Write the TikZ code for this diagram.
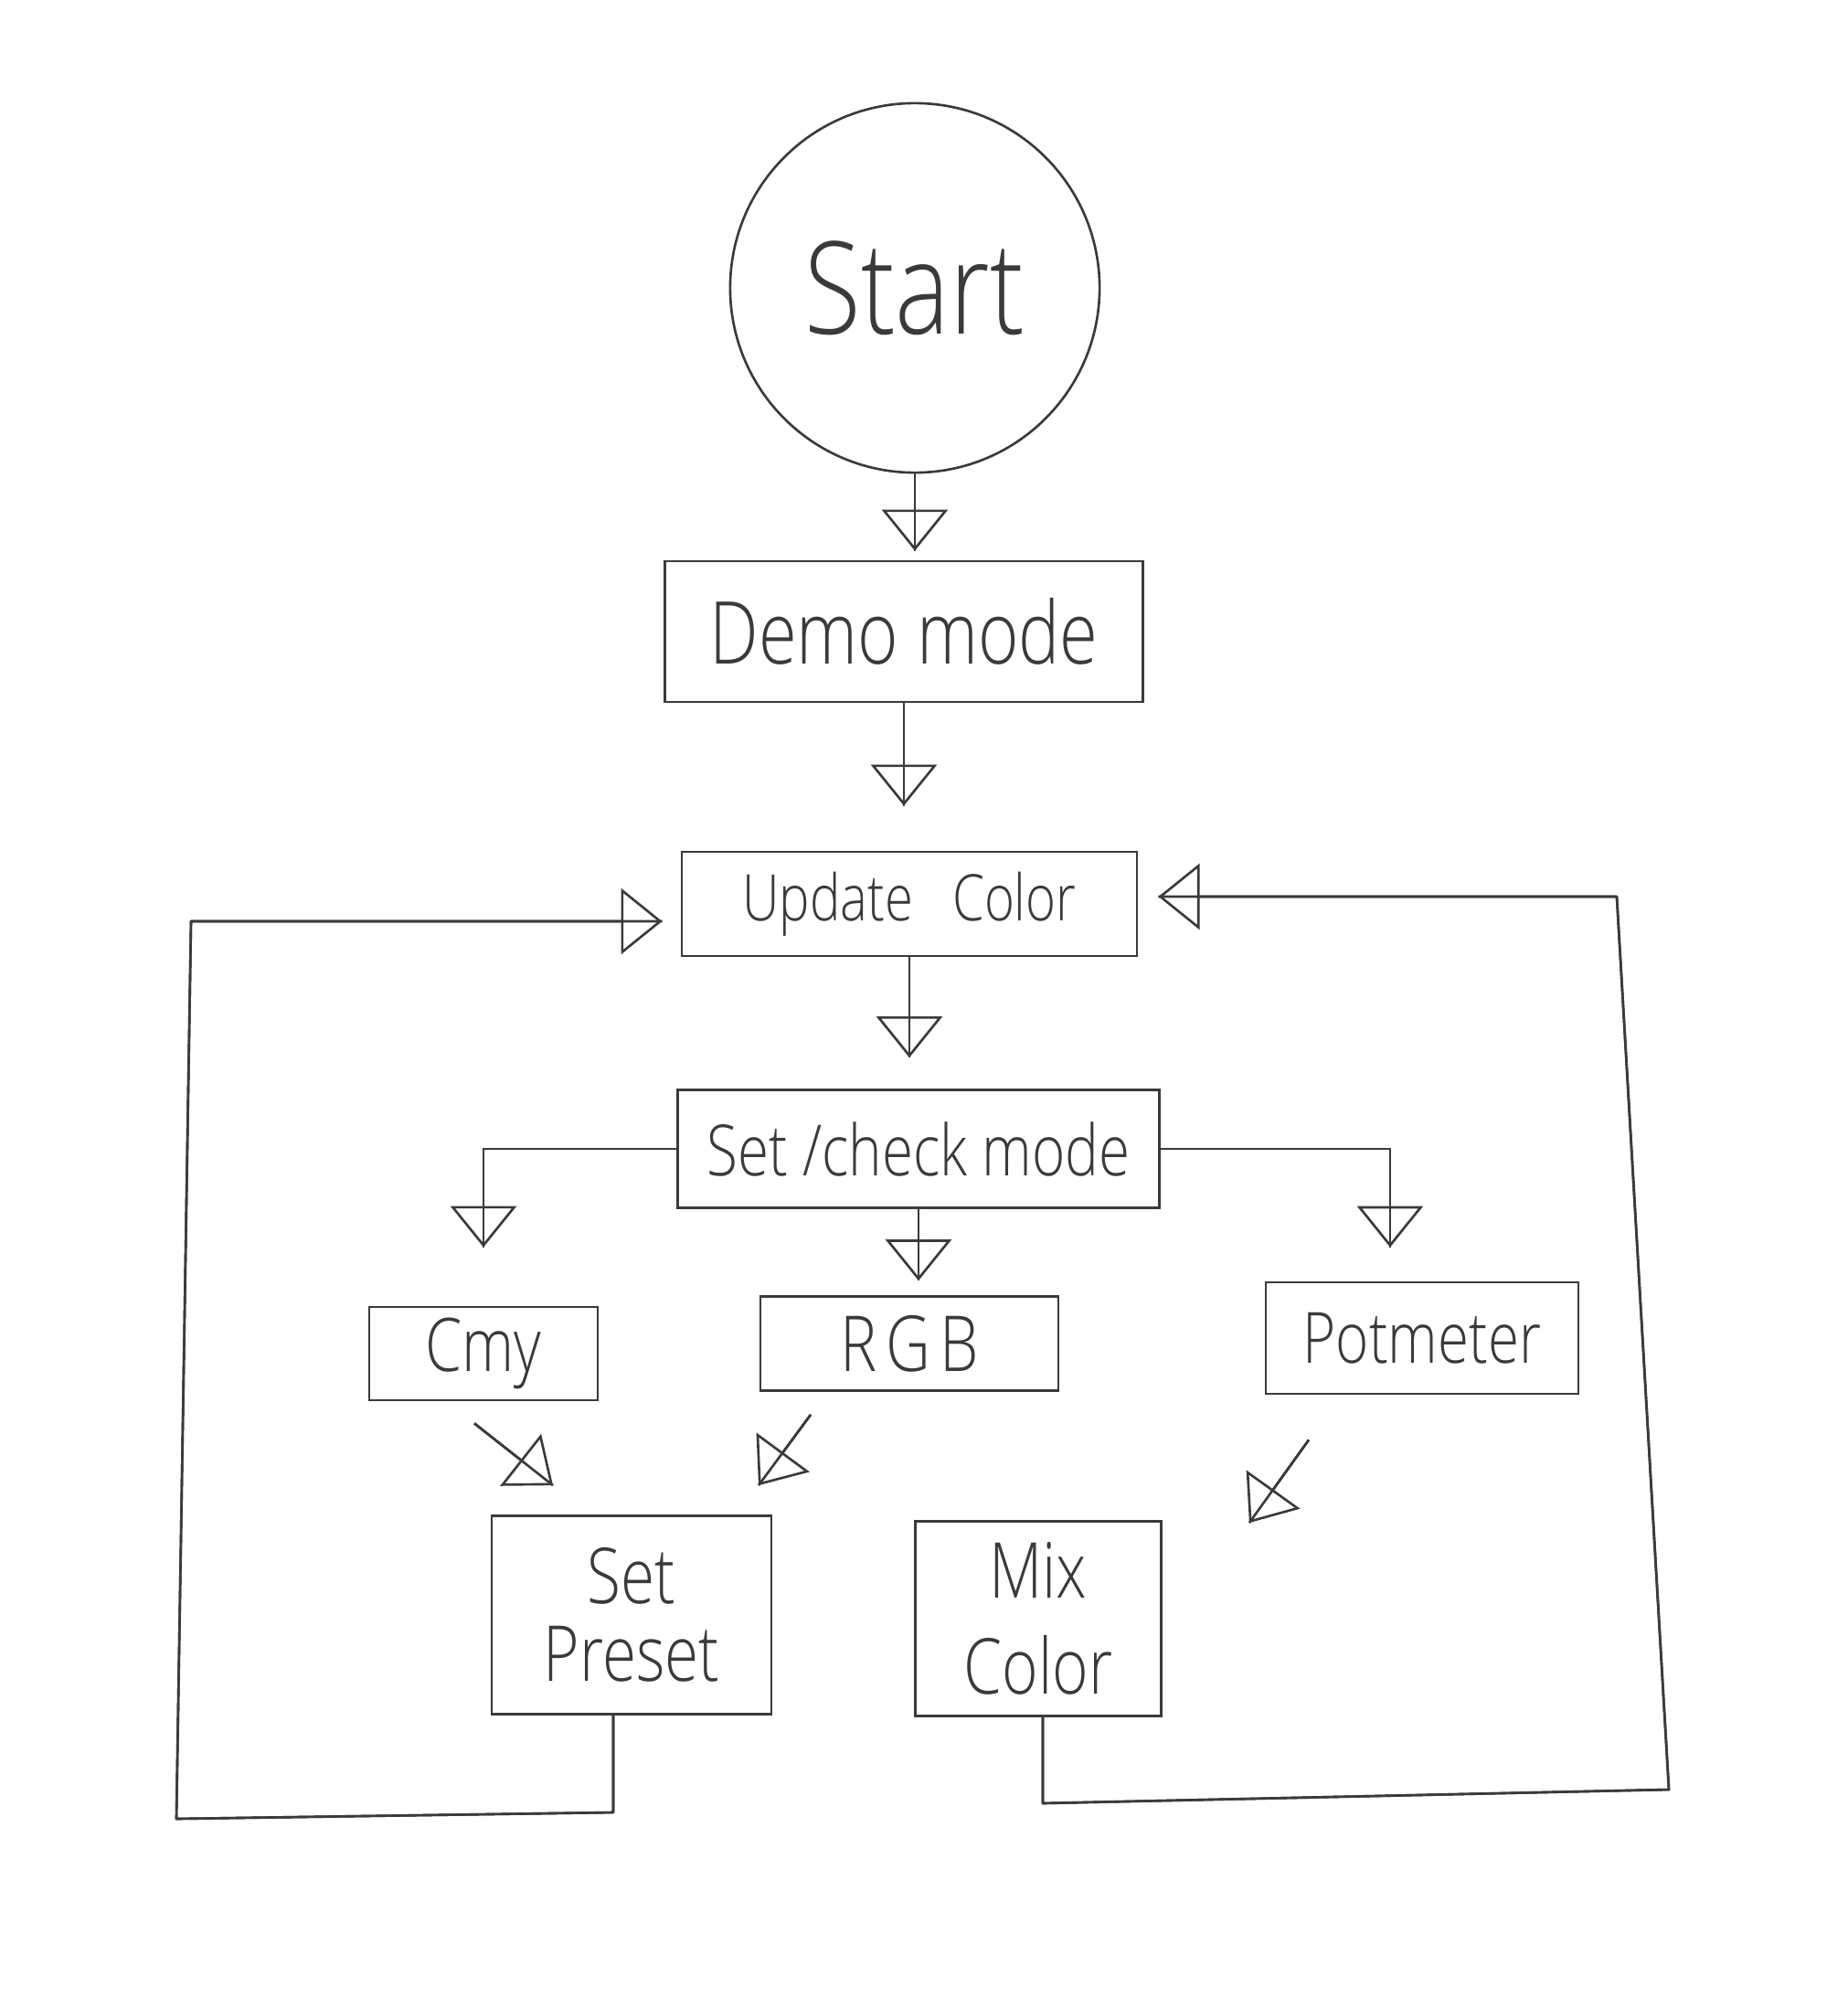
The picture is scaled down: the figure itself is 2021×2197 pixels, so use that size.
\documentclass[tikz,border=0pt]{standalone}
\usepackage{fontspec}
\setmainfont{Open Sans}
\newfontfamily\handfont{Open Sans}[UprightFont=* Light, FakeStretch=0.8]
\usetikzlibrary{arrows.meta,calc}
\definecolor{ink}{HTML}{3A3A3A}
\newcommand\fs[2]{\handfont\fontsize{#1}{#2}\selectfont}
\begin{document}
\begin{tikzpicture}[x=0.01cm,y=-0.01cm,
  line width=0.75pt, draw=ink, text=ink, font=\handfont,
  box/.style={draw, rectangle, inner sep=0pt, align=center},
  arr/.style={-{Triangle[open,length=0.45cm,width=0.72cm]}, postaction={draw,-}},
  link/.style={line join=round}]
\fill[white] (0,0) rectangle (2021,2197);
\useasboundingbox (0,0) rectangle (2021,2197);

% flow boxes
\node[draw, circle, minimum size=4.04cm, inner sep=0pt, font=\fs{40}{44}] (start) at (1001,315) {Start};
\node[box, minimum width=5.23cm, minimum height=1.54cm, font=\fs{27}{30}] (demo) at (989,691) {Demo mode};
\node[box, minimum width=4.98cm, minimum height=1.14cm, font=\fs{20}{24}] (update) at (995,989) {Update\hspace{0.4em} Color};
\node[box, minimum width=5.27cm, minimum height=1.29cm, font=\fs{22}{26}] (setmode) at (1005,1257) {Set /check mode};
\node[box, minimum width=2.50cm, minimum height=1.02cm, font=\fs{23}{26}] (cmy) at (529,1481) {Cmy};
\node[box, minimum width=3.26cm, minimum height=1.03cm, font=\fs{24}{28}] (rgb) at (995,1470)
  {\addfontfeature{LetterSpace=12}RGB};
\node[box, minimum width=3.42cm, minimum height=1.22cm, font=\fs{22}{26}] (pot) at (1556,1464) {Potmeter};
\node[box, minimum width=3.06cm, minimum height=2.17cm, font=\fs{24}{24}] (preset) at (691,1767) {Set\\Preset};
\node[box, minimum width=2.69cm, minimum height=2.13cm, font=\fs{24}{30}] (mix) at (1136,1771) {Mix\\Color};

% main chain
\draw[arr, shorten >=0.1cm] (start.south) -- (start.south |- demo.north);
\draw[arr, shorten >=0.49cm] (demo.south) -- (demo.south |- update.north);
\draw[arr, shorten >=0.34cm] (update.south) -- (update.south |- setmode.north);

% mode branches
\draw[arr, link, shorten >=0.64cm] (setmode.west) -| (cmy.north);
\draw[arr, shorten >=0.16cm] (setmode.south) -- (setmode.south |- rgb.north);
\draw[arr, link, shorten >=0.37cm] (setmode.east) -| ([xshift=-0.35cm]pot.north);

% into the action boxes
\draw[arr] ([shift={(-10,24)}]cmy.south) -- ([shift={(-86,-32)}]preset.north);
\draw[arr] ([shift={(-108,25)}]rgb.south) -- ([shift={(139,-32)}]preset.north);
\draw[arr] ([shift={(-124,49)}]pot.south) -- ([shift={(95,3)}]mix.north east);

% loop back from Set Preset
\coordinate (lbr) at (671,1983);
\coordinate (lb) at (193,1990);
\coordinate (lt) at (209,1008);
\draw[arr, link, shorten >=0.2cm] ([xshift=-0.2cm]preset.south) -- (lbr) -- (lb) -- (lt)
  -- ([yshift=-0.19cm]update.west);

% loop back from Mix Color
\coordinate (rbl) at (1141,1973);
\coordinate (rbr) at (1826,1958);
\coordinate (rtr) at (1769,981);
\draw[arr, link, shorten >=0.22cm] ([xshift=0.05cm]mix.south) -- (rbl) -- (rbr) -- (rtr)
  -- ([yshift=0.08cm]update.east);
\end{tikzpicture}
\end{document}
